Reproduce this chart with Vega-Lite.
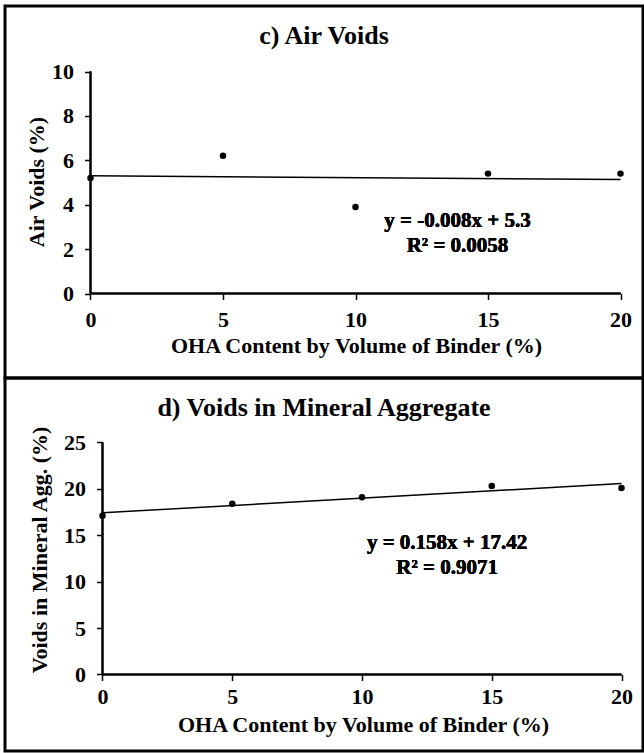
{
  "$schema": "https://vega.github.io/schema/vega-lite/v6.json",
  "padding": {"left": 3, "top": 4, "right": 0, "bottom": 0},
  "background": "white",
  "datasets": {
    "air": [
      {"oha": 0, "value": 5.2},
      {"oha": 5, "value": 6.2},
      {"oha": 10, "value": 3.9},
      {"oha": 15, "value": 5.4},
      {"oha": 20, "value": 5.4}
    ],
    "vma": [
      {"oha": 0, "value": 17.1},
      {"oha": 5, "value": 18.4},
      {"oha": 10, "value": 19.1},
      {"oha": 15, "value": 20.3},
      {"oha": 20, "value": 20.1}
    ]
  },
  "config": {
    "view": {"stroke": "black", "strokeWidth": 3},
    "font": "Liberation Serif",
    "title": {"font": "Liberation Serif", "fontSize": 26, "fontWeight": "bold", "color": "black", "anchor": "middle", "frame": "group", "baseline": "alphabetic", "offset": -43},
    "axis": {
      "grid": false, "domain": false,
      "labelFont": "Liberation Serif", "labelFontSize": 22, "labelFontWeight": "bold", "labelColor": "black",
      "titleFont": "Liberation Serif", "titleFontSize": 22, "titleFontWeight": "bold", "titleColor": "black",
      "tickColor": "black", "tickSize": 6, "tickWidth": 1.5,
      "labelFlush": false, "labelOverlap": false, "labelBound": false
    },
    "text": {"font": "Liberation Serif", "fontWeight": "bold", "fontSize": 21, "color": "black"}
  },
  "vconcat": [
    {
      "width": 638,
      "height": 372,
      "title": "c) Air Voids",
      "data": {"name": "air"},
      "layer": [
        {
          "mark": {"type": "rule", "color": "black", "strokeWidth": 1.5},
          "encoding": {
            "x": {"datum": 0, "type": "quantitative", "scale": {"domain": [-3.2264, 20.849], "nice": false, "zero": false}, "axis": {"values": [0, 5, 10, 15, 20], "offset": -84.5, "title": "OHA Content by Volume of Binder (%)", "labelPadding": 9.5, "titlePadding": 5.5, "titleX": 351}},
            "y": {"datum": 0, "type": "quantitative", "scale": {"domain": [-3.8063, 12.9505], "nice": false, "zero": false}, "axis": {"values": [0, 2, 4, 6, 8, 10], "offset": -85.5, "title": "Air Voids (%)", "labelPadding": 11, "titlePadding": 3, "titleY": 175.5}},
            "y2": {"datum": 10}
          }
        },
        {
          "mark": {"type": "rule", "color": "black", "strokeWidth": 1.5},
          "encoding": {
            "x": {"datum": 0, "type": "quantitative", "scale": {"domain": [-3.2264, 20.849], "nice": false, "zero": false}},
            "x2": {"datum": 20},
            "y": {"datum": 0, "type": "quantitative", "scale": {"domain": [-3.8063, 12.9505], "nice": false, "zero": false}}
          }
        },
        {
          "transform": [{"regression": "value", "on": "oha"}],
          "mark": {"type": "line", "color": "black", "strokeWidth": 1.5},
          "encoding": {
            "x": {"field": "oha", "type": "quantitative", "scale": {"domain": [-3.2264, 20.849], "nice": false, "zero": false}},
            "y": {"field": "value", "type": "quantitative", "scale": {"domain": [-3.8063, 12.9505], "nice": false, "zero": false}}
          }
        },
        {
          "mark": {"type": "circle", "color": "black", "opacity": 1, "size": 42},
          "encoding": {
            "x": {"field": "oha", "type": "quantitative", "scale": {"domain": [-3.2264, 20.849], "nice": false, "zero": false}},
            "y": {"field": "value", "type": "quantitative", "scale": {"domain": [-3.8063, 12.9505], "nice": false, "zero": false}}
          }
        },
        {
          "mark": {"type": "text", "text": "y = -0.008x + 5.3", "baseline": "middle", "align": "center"},
          "encoding": {
            "x": {"datum": 13.85, "type": "quantitative", "scale": {"domain": [-3.2264, 20.849], "nice": false, "zero": false}},
            "y": {"datum": 3.26, "type": "quantitative", "scale": {"domain": [-3.8063, 12.9505], "nice": false, "zero": false}}
          }
        },
        {
          "mark": {"type": "text", "text": "R² = 0.0058", "baseline": "middle", "align": "center"},
          "encoding": {
            "x": {"datum": 13.85, "type": "quantitative", "scale": {"domain": [-3.2264, 20.849], "nice": false, "zero": false}},
            "y": {"datum": 2.13, "type": "quantitative", "scale": {"domain": [-3.8063, 12.9505], "nice": false, "zero": false}}
          }
        }
      ]
    },
    {
      "width": 638,
      "height": 373,
      "title": "d) Voids in Mineral Aggregate",
      "data": {"name": "vma"},
      "layer": [
        {
          "mark": {"type": "rule", "color": "black", "strokeWidth": 1.5},
          "encoding": {
            "x": {"datum": 0, "type": "quantitative", "scale": {"domain": [-3.7572, 20.8285], "nice": false, "zero": false}, "axis": {"values": [0, 5, 10, 15, 20], "offset": -76.5, "title": "OHA Content by Volume of Binder (%)", "labelPadding": 6, "titlePadding": 7, "titleX": 358}},
            "y": {"datum": 0, "type": "quantitative", "scale": {"domain": [-8.2435, 31.95], "nice": false, "zero": false}, "axis": {"values": [0, 5, 10, 15, 20, 25], "offset": -97.5, "title": "Voids in Mineral Agg. (%)", "labelPadding": 11, "titlePadding": 12, "titleY": 171.5}},
            "y2": {"datum": 25}
          }
        },
        {
          "mark": {"type": "rule", "color": "black", "strokeWidth": 1.5},
          "encoding": {
            "x": {"datum": 0, "type": "quantitative", "scale": {"domain": [-3.7572, 20.8285], "nice": false, "zero": false}},
            "x2": {"datum": 20},
            "y": {"datum": 0, "type": "quantitative", "scale": {"domain": [-8.2435, 31.95], "nice": false, "zero": false}}
          }
        },
        {
          "transform": [{"regression": "value", "on": "oha"}],
          "mark": {"type": "line", "color": "black", "strokeWidth": 1.5},
          "encoding": {
            "x": {"field": "oha", "type": "quantitative", "scale": {"domain": [-3.7572, 20.8285], "nice": false, "zero": false}},
            "y": {"field": "value", "type": "quantitative", "scale": {"domain": [-8.2435, 31.95], "nice": false, "zero": false}}
          }
        },
        {
          "mark": {"type": "circle", "color": "black", "opacity": 1, "size": 42},
          "encoding": {
            "x": {"field": "oha", "type": "quantitative", "scale": {"domain": [-3.7572, 20.8285], "nice": false, "zero": false}},
            "y": {"field": "value", "type": "quantitative", "scale": {"domain": [-8.2435, 31.95], "nice": false, "zero": false}}
          }
        },
        {
          "mark": {"type": "text", "text": "y = 0.158x + 17.42", "baseline": "middle", "align": "center"},
          "encoding": {
            "x": {"datum": 13.28, "type": "quantitative", "scale": {"domain": [-3.7572, 20.8285], "nice": false, "zero": false}},
            "y": {"datum": 14.12, "type": "quantitative", "scale": {"domain": [-8.2435, 31.95], "nice": false, "zero": false}}
          }
        },
        {
          "mark": {"type": "text", "text": "R² = 0.9071", "baseline": "middle", "align": "center"},
          "encoding": {
            "x": {"datum": 13.28, "type": "quantitative", "scale": {"domain": [-3.7572, 20.8285], "nice": false, "zero": false}},
            "y": {"datum": 11.48, "type": "quantitative", "scale": {"domain": [-8.2435, 31.95], "nice": false, "zero": false}}
          }
        }
      ]
    }
  ],
  "bounds": "flush",
  "spacing": 0
}
